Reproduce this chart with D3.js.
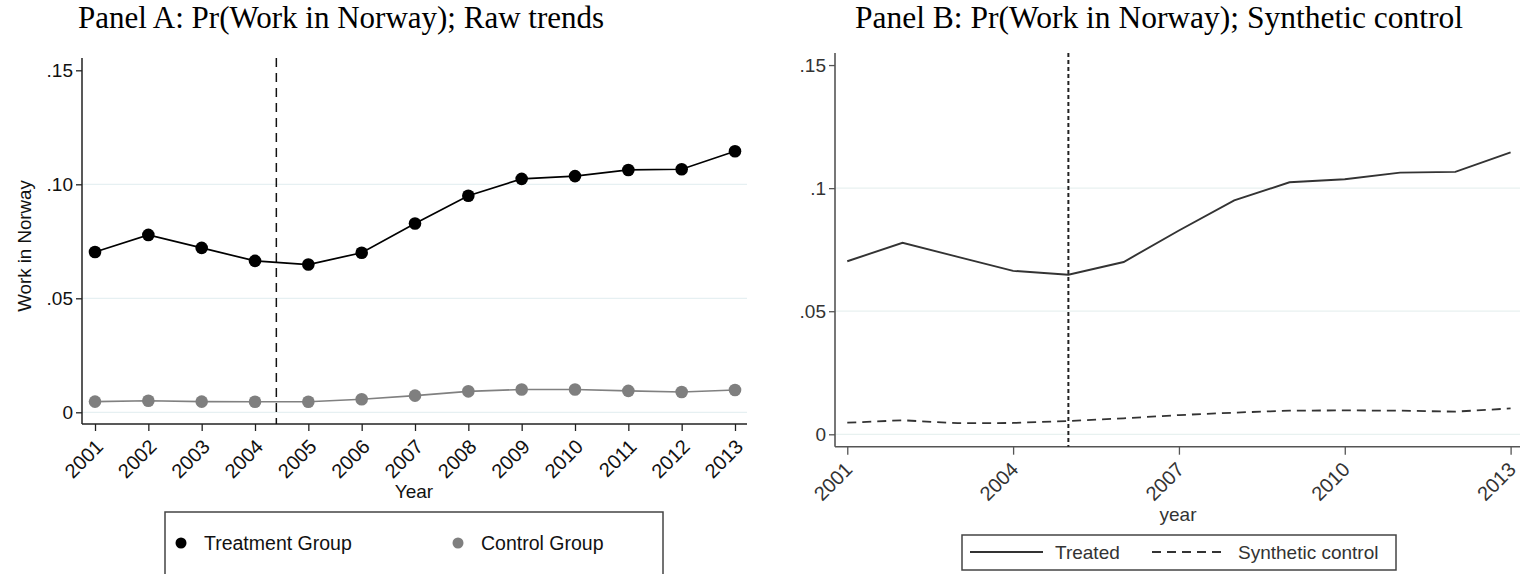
<!DOCTYPE html>
<html>
<head>
<meta charset="utf-8">
<script src="https://cdn.jsdelivr.net/npm/d3@7"></script>
<style>
  html, body { margin: 0; padding: 0; background: #fff; }
  svg { display: block; }
</style>
</head>
<body>
<svg id="chart" width="1520" height="574"></svg>
<script>
// ---------- data ----------
const years = [2001, 2002, 2003, 2004, 2005, 2006, 2007, 2008, 2009, 2010, 2011, 2012, 2013];
const treatment = [0.0703, 0.0778, 0.0721, 0.0664, 0.0648, 0.0700, 0.0828, 0.0950, 0.1024, 0.1036, 0.1063, 0.1066, 0.1145];
const control   = [0.0047, 0.0051, 0.0047, 0.0046, 0.0046, 0.0057, 0.0073, 0.0092, 0.0100, 0.0100, 0.0094, 0.0089, 0.0098];
const synthetic = [0.0047, 0.0057, 0.0045, 0.0046, 0.0054, 0.0065, 0.0078, 0.0088, 0.0096, 0.0097, 0.0096, 0.0092, 0.0105];

const yTicksA = [0, 0.05, 0.10, 0.15];
const yTickLabelsA = ["0", ".05", ".10", ".15"];
const yTicksB = [0, 0.05, 0.10, 0.15];
const yTickLabelsB = ["0", ".05", ".1", ".15"];
const xTicksA = years;
const xTicksB = [2001, 2004, 2007, 2010, 2013];
const treatLineA = 2004.4;
const treatLineB = 2005;

const titleA = "Panel A: Pr(Work in Norway); Raw trends";
const titleB = "Panel B: Pr(Work in Norway); Synthetic control";
const yTitleA = "Work in Norway";
const xTitleA = "Year";
const xTitleB = "year";
const legendA = ["Treatment Group", "Control Group"];
const legendB = ["Treated", "Synthetic control"];

// ---------- drawing ----------
const svg = d3.select("#chart");
const SANS = "'Liberation Sans', Arial, sans-serif";
const SERIF = "'Liberation Serif', 'Times New Roman', serif";

// Titles
svg.append("text").attr("x", 341).attr("y", 28).attr("text-anchor", "middle")
  .attr("font-family", SERIF).attr("font-size", 31).attr("fill", "#000").text(titleA);
svg.append("text").attr("x", 1159).attr("y", 28).attr("text-anchor", "middle")
  .attr("font-family", SERIF).attr("font-size", 31.5).attr("fill", "#000").text(titleB);

// ======== Panel A ========
(function () {
  const left = 82, right = 747, top = 58, bottom = 424;
  const x = d3.scaleLinear().domain([2000.756, 2013.225]).range([left, right]);
  const y = d3.scaleLinear().domain([-0.00513, 0.1554]).range([bottom, top]);
  const g = svg.append("g");

  // gridlines
  g.selectAll("line.grid").data(yTicksA.filter(v => v < 0.15)).enter().append("line")
    .attr("x1", left).attr("x2", right).attr("y1", d => y(d)).attr("y2", d => y(d))
    .attr("stroke", "#e6f0f2").attr("stroke-width", 1.2);

  // y axis
  const yAxis = d3.axisLeft(y).tickValues(yTicksA).tickSize(6).tickSizeOuter(0)
    .tickFormat((d, i) => yTickLabelsA[i]);
  const ya = g.append("g").attr("transform", `translate(${left},0)`).call(yAxis);
  ya.select(".domain").attr("d", `M0,${top}V${bottom}`).attr("stroke", "#222").attr("stroke-width", 1.5);
  ya.selectAll(".tick line").attr("stroke", "#222").attr("stroke-width", 1.3);
  ya.selectAll(".tick text").attr("font-family", SANS).attr("font-size", 19).attr("fill", "#111").attr("x", -9);

  // x axis
  const xAxis = d3.axisBottom(x).tickValues(xTicksA).tickSize(7).tickSizeOuter(0).tickFormat(d3.format("d"));
  const xa = g.append("g").attr("transform", `translate(0,${bottom})`).call(xAxis);
  xa.select(".domain").attr("d", `M${left},0H${right}`).attr("stroke", "#222").attr("stroke-width", 1.5);
  xa.selectAll(".tick line").attr("stroke", "#222").attr("stroke-width", 1.3);
  xa.selectAll(".tick text").attr("font-family", SANS).attr("font-size", 20).attr("fill", "#111")
    .attr("text-anchor", "end").attr("dy", "0.35em").attr("y", 0)
    .attr("transform", "translate(4,19) rotate(-45)");

  // axis titles
  g.append("text").attr("x", 414).attr("y", 498).attr("text-anchor", "middle")
    .attr("font-family", SANS).attr("font-size", 19).attr("fill", "#111").text(xTitleA);
  g.append("text").attr("transform", `translate(31,${(top + bottom) / 2 + 5}) rotate(-90)`).attr("text-anchor", "middle")
    .attr("font-family", SANS).attr("font-size", 18.7).attr("fill", "#111").text(yTitleA);

  // vertical dashed line
  g.append("line").attr("x1", x(treatLineA)).attr("x2", x(treatLineA)).attr("y1", top).attr("y2", bottom)
    .attr("stroke", "#111").attr("stroke-width", 1.5).attr("stroke-dasharray", "9,6");

  const line = d3.line().x((d, i) => x(years[i])).y(d => y(d));
  // control
  g.append("path").datum(control).attr("d", line).attr("fill", "none").attr("stroke", "#808080").attr("stroke-width", 1.6);
  g.selectAll("circle.ctrl").data(control).enter().append("circle")
    .attr("cx", (d, i) => x(years[i])).attr("cy", d => y(d)).attr("r", 6.3).attr("fill", "#7f7f7f");
  // treatment
  g.append("path").datum(treatment).attr("d", line).attr("fill", "none").attr("stroke", "#000").attr("stroke-width", 1.7);
  g.selectAll("circle.trt").data(treatment).enter().append("circle")
    .attr("cx", (d, i) => x(years[i])).attr("cy", d => y(d)).attr("r", 6.3).attr("fill", "#000");

  // legend
  g.append("rect").attr("x", 165).attr("y", 512).attr("width", 498).attr("height", 80)
    .attr("fill", "#fff").attr("stroke", "#444").attr("stroke-width", 1.5);
  g.append("circle").attr("cx", 181).attr("cy", 543).attr("r", 5.5).attr("fill", "#000");
  g.append("text").attr("x", 204).attr("y", 550).attr("font-family", SANS).attr("font-size", 19.5).attr("fill", "#111").text(legendA[0]);
  g.append("circle").attr("cx", 458).attr("cy", 543).attr("r", 5.5).attr("fill", "#7f7f7f");
  g.append("text").attr("x", 481).attr("y", 550).attr("font-family", SANS).attr("font-size", 19.5).attr("fill", "#111").text(legendA[1]);
})();

// ======== Panel B ========
(function () {
  const left = 835, right = 1520, top = 53, bottom = 446.7;
  const x = d3.scaleLinear().domain([2000.778, 2013.17]).range([left, right]);
  const y = d3.scaleLinear().domain([-0.00504, 0.1549]).range([bottom, top]);
  const g = svg.append("g");

  g.selectAll("line.grid").data(yTicksB.filter(v => v < 0.15)).enter().append("line")
    .attr("x1", left).attr("x2", right).attr("y1", d => y(d)).attr("y2", d => y(d))
    .attr("stroke", "#e8f1f0").attr("stroke-width", 1.2);

  const yAxis = d3.axisLeft(y).tickValues(yTicksB).tickSize(6).tickSizeOuter(0)
    .tickFormat((d, i) => yTickLabelsB[i]);
  const ya = g.append("g").attr("transform", `translate(${left},0)`).call(yAxis);
  ya.select(".domain").attr("d", `M0,${top}V${bottom}`).attr("stroke", "#555").attr("stroke-width", 1.6);
  ya.selectAll(".tick line").attr("stroke", "#555").attr("stroke-width", 1.3);
  ya.selectAll(".tick text").attr("font-family", SANS).attr("font-size", 19).attr("fill", "#333").attr("x", -9);

  const xAxis = d3.axisBottom(x).tickValues(xTicksB).tickSize(8).tickSizeOuter(0).tickFormat(d3.format("d"));
  const xa = g.append("g").attr("transform", `translate(0,${bottom})`).call(xAxis);
  xa.select(".domain").attr("d", `M${left},0H${right}`).attr("stroke", "#555").attr("stroke-width", 1.6);
  xa.selectAll(".tick line").attr("stroke", "#555").attr("stroke-width", 1.3);
  xa.selectAll(".tick text").attr("font-family", SANS).attr("font-size", 20).attr("fill", "#333")
    .attr("text-anchor", "end").attr("dy", "0.35em").attr("y", 0)
    .attr("transform", "translate(1,19) rotate(-45)");

  g.append("text").attr("x", 1178).attr("y", 521).attr("text-anchor", "middle")
    .attr("font-family", SANS).attr("font-size", 19).attr("fill", "#333").text(xTitleB);

  g.append("line").attr("x1", x(treatLineB)).attr("x2", x(treatLineB)).attr("y1", top).attr("y2", bottom)
    .attr("stroke", "#222").attr("stroke-width", 2).attr("stroke-dasharray", "4,3");

  const line = d3.line().x((d, i) => x(years[i])).y(d => y(d));
  g.append("path").datum(synthetic).attr("d", line).attr("fill", "none").attr("stroke", "#333")
    .attr("stroke-width", 1.8).attr("stroke-dasharray", "9,6");
  g.append("path").datum(treatment).attr("d", line).attr("fill", "none").attr("stroke", "#333").attr("stroke-width", 1.9);

  // legend
  g.append("rect").attr("x", 962).attr("y", 535).attr("width", 434).attr("height", 35)
    .attr("fill", "#fff").attr("stroke", "#444").attr("stroke-width", 1.5);
  g.append("line").attr("x1", 970).attr("x2", 1043).attr("y1", 552).attr("y2", 552).attr("stroke", "#333").attr("stroke-width", 1.9);
  g.append("text").attr("x", 1055).attr("y", 559).attr("font-family", SANS).attr("font-size", 19).attr("fill", "#333").text(legendB[0]);
  g.append("line").attr("x1", 1152).attr("x2", 1227).attr("y1", 552).attr("y2", 552).attr("stroke", "#333")
    .attr("stroke-width", 1.8).attr("stroke-dasharray", "9,6");
  g.append("text").attr("x", 1238).attr("y", 559).attr("font-family", SANS).attr("font-size", 19).attr("fill", "#333").text(legendB[1]);
})();
</script>
</body>
</html>
